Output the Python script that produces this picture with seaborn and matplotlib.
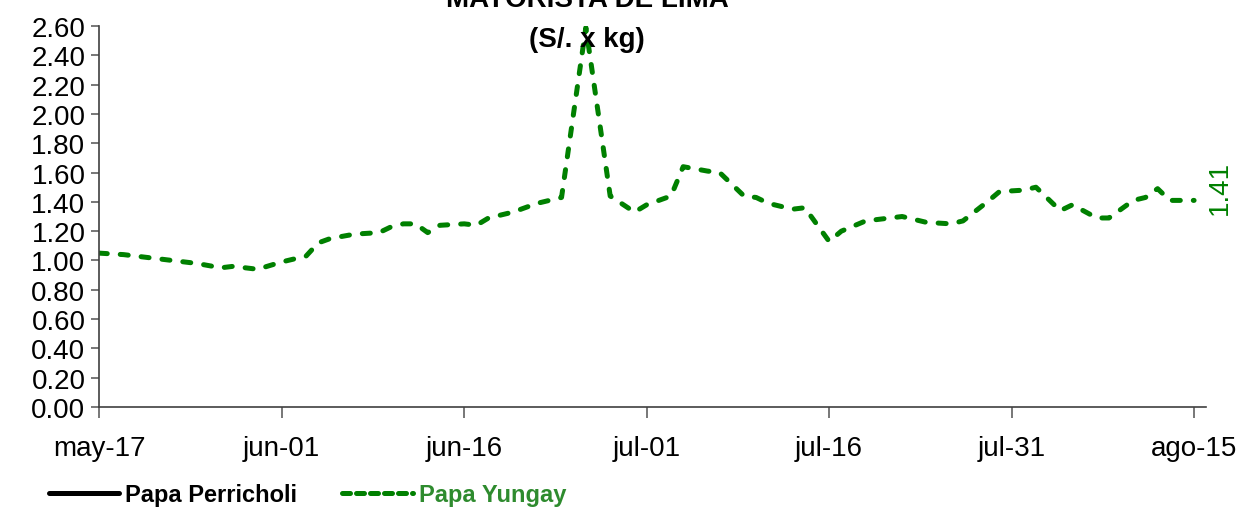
import matplotlib
matplotlib.use("Agg")
import matplotlib.pyplot as plt
import matplotlib.dates as mdates
from matplotlib.lines import Line2D
from matplotlib import font_manager
import seaborn as sns
import pandas as pd

# precio Papa Yungay (S/. x kg)
fechas = ["2019-05-17", "2019-05-19", "2019-05-21", "2019-05-23", "2019-05-25",
          "2019-05-27", "2019-05-28", "2019-05-30", "2019-06-01", "2019-06-03",
          "2019-06-04", "2019-06-05", "2019-06-07", "2019-06-09", "2019-06-10",
          "2019-06-11", "2019-06-12", "2019-06-13", "2019-06-14", "2019-06-16",
          "2019-06-17", "2019-06-18", "2019-06-20", "2019-06-21", "2019-06-22",
          "2019-06-24", "2019-06-26", "2019-06-28", "2019-06-30", "2019-07-01",
          "2019-07-03", "2019-07-04", "2019-07-06", "2019-07-07", "2019-07-09",
          "2019-07-10", "2019-07-11", "2019-07-13", "2019-07-14", "2019-07-16",
          "2019-07-17", "2019-07-19", "2019-07-21", "2019-07-22", "2019-07-24",
          "2019-07-26", "2019-07-27", "2019-07-29", "2019-07-30", "2019-08-01",
          "2019-08-02", "2019-08-04", "2019-08-05", "2019-08-07", "2019-08-08",
          "2019-08-10", "2019-08-11", "2019-08-12", "2019-08-13", "2019-08-15"]
yungay = [1.05, 1.04, 1.02, 1.00, 0.98,
          0.95, 0.96, 0.94, 0.99, 1.03,
          1.12, 1.15, 1.18, 1.19, 1.23,
          1.25, 1.25, 1.19, 1.24, 1.25,
          1.24, 1.29, 1.33, 1.36, 1.39,
          1.43, 2.59, 1.44, 1.33, 1.38,
          1.44, 1.64, 1.61, 1.60, 1.44,
          1.43, 1.39, 1.35, 1.36, 1.13,
          1.20, 1.27, 1.29, 1.30, 1.26,
          1.25, 1.27, 1.40, 1.47, 1.48,
          1.50, 1.34, 1.38, 1.29, 1.29,
          1.41, 1.43, 1.49, 1.41, 1.41]
series = ["Papa Perricholi", "Papa Yungay"]
ultimo = "1.41"
titulo = ["MAYORISTA DE LIMA", "(S/. x kg)"]
meses = {5: "may", 6: "jun", 7: "jul", 8: "ago"}

verde = "#008000"

names = {f.name for f in font_manager.fontManager.ttflist}
fuente = "Liberation Sans Narrow" if "Liberation Sans Narrow" in names else "Liberation Sans"

sns.set_style("ticks")
plt.rcParams["font.family"] = [fuente, "DejaVu Sans"]
plt.rcParams["text.color"] = "black"

df = pd.DataFrame({"fecha": pd.to_datetime(fechas), "precio": yungay})

fig = plt.figure(figsize=(12.41, 5.10), dpi=100)
ax = fig.add_axes([0.080, 0.20, 0.892, 0.747])

sns.lineplot(data=df, x="fecha", y="precio", ax=ax, color=verde, linewidth=3.6)
ln = ax.lines[0]
ln.set_dashes((1.6, 2.6))
ln.set_dash_capstyle("round")

ax.set_ylim(0, 2.6)
ax.set_yticks([i * 0.2 for i in range(14)])
ax.yaxis.set_major_formatter(matplotlib.ticker.FormatStrFormatter("%.2f"))
ax.set_xlim(pd.Timestamp("2019-05-17"), pd.Timestamp("2019-08-16"))
ax.set_xticks(pd.date_range("2019-05-17", periods=7, freq="15D"))
ax.xaxis.set_major_formatter(
    matplotlib.ticker.FuncFormatter(lambda v, p: "%s-%02d" % (meses[mdates.num2date(v).month], mdates.num2date(v).day)))
ax.set_xlabel("")
ax.set_ylabel("")

for s in ["top", "right"]:
    ax.spines[s].set_visible(False)
for s in ["left", "bottom"]:
    ax.spines[s].set_color("#404040")
    ax.spines[s].set_linewidth(1.2)
ax.tick_params(axis="y", length=6, width=1.2, color="#606060", labelsize=20, pad=4, labelcolor="black")
ax.tick_params(axis="x", length=8, width=1.2, color="#606060", labelsize=20, pad=12, labelcolor="black")

ax.text(pd.Timestamp("2019-08-17 02:00"), 1.50, ultimo, color=verde, fontsize=20,
        rotation=90, ha="center", va="center")

fig.text(0.473, 1.0, titulo[0], fontsize=20, fontweight="bold", ha="center", va="center")
fig.text(0.473, 0.922, titulo[1], fontsize=20, fontweight="bold", ha="center", va="center")

handles = [Line2D([], [], color="black", linewidth=3.6),
           Line2D([], [], color=verde, linewidth=3.6, dashes=(1.6, 1.2), dash_capstyle="round")]
leg = fig.legend(handles, series, loc="center left", bbox_to_anchor=(0.022, 0.028), ncol=2,
                 frameon=False, handlelength=3.0, handletextpad=0.25, columnspacing=1.9,
                 prop={"size": 17, "weight": "bold"})
leg.get_texts()[1].set_color("#2e8b2e")

fig.savefig("out.png", dpi=100)
